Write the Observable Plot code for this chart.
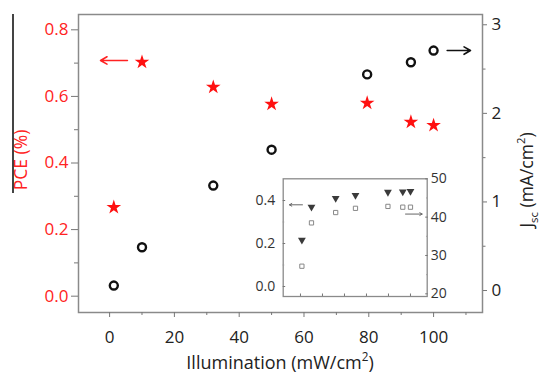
<!DOCTYPE html>
<html><head><meta charset="utf-8">
<script src="https://cdn.jsdelivr.net/npm/d3@7"></script>
<script src="https://cdn.jsdelivr.net/npm/@observablehq/plot@0.6"></script>
<style>
body{margin:0;background:#fff;}
#chart{position:relative;width:542px;height:377px;overflow:hidden;background:#fff;}
#chart svg{position:absolute;}
#edge{position:absolute;left:12px;top:14px;width:1.5px;height:179px;background:#444;}
</style></head><body><div id="chart"><div id="edge"></div></div>
<script>
// ---- data ----
const illumination = [1.3, 10, 32, 50, 79.5, 93, 100];     // mW/cm2
const pce = [0.267, 0.703, 0.628, 0.577, 0.580, 0.523, 0.513]; // %
const jsc = [0.056, 0.489, 1.185, 1.59, 2.44, 2.577, 2.709];   // mA/cm2
const voc = [0.216, 0.370, 0.410, 0.424, 0.439, 0.441, 0.443]; // V
const ff = [27.2, 38.5, 41.2, 42.3, 42.8, 42.6, 42.6];         // %
const xTicks = [0, 20, 40, 60, 80, 100];
const xMinor = [10, 30, 50, 70, 90, 110];
const pceTicks = [0, 0.2, 0.4, 0.6, 0.8];
const pceMinor = [0.1, 0.3, 0.5, 0.7];
const jscTicks = [0, 1, 2, 3];
const jscMinor = [0.5, 1.5, 2.5];
const vocTicks = [0, 0.2, 0.4];
const vocMinor = [0.1, 0.3];
const ffTicks = [20, 30, 40, 50];
const ffMinor = [25, 35, 45];
// annotation arrows (data coordinates)
const pceArrow = [{x1: 5.5, x2: -2.8, y: 0.708}];
const jscArrow = [{x1: 104.2, x2: 111.4, y: 2.709}];
const vocArrow = [{x1: 1.8, x2: -10, y: 0.38}];
const ffArrow = [{x1: 95.5, x2: 110.6, y: 40.8}];

const rows = illumination.map((x, i) => ({x, pce: pce[i], jsc: jsc[i], voc: voc[i], ff: ff[i]}));
const chart = document.getElementById("chart");
const FONT = '"Open Sans", sans-serif';
const W = 542, H = 377;
const main = {width: W, height: H, marginLeft: 78, marginRight: 60, marginTop: 14, marginBottom: 65};
const xMain = [-9.6, 115.1];
const st = (fs) => ({fontFamily: FONT, fontSize: fs + "px", background: "transparent", overflow: "visible"});
const none = () => "";

// main plot, left axis (PCE)
const p1 = Plot.plot({
  ...main, style: st(17), x: {domain: xMain}, y: {domain: [-0.049, 0.846]},
  marks: [
    Plot.frame({stroke: "#8a8a8a", strokeWidth: 1.5}),
    Plot.axisX({ticks: xTicks, tickSize: 5, tickFormat: none, stroke: "#777", label: null}),
    Plot.axisX({ticks: xMinor, tickSize: 3, tickFormat: none, stroke: "#777", label: null}),
    Plot.axisX({ticks: xTicks, tickSize: 0, tickPadding: 18, fill: "#222", label: null, tickFormat: d3.format("d")}),
    Plot.axisY({ticks: pceTicks, tickSize: 7, tickFormat: none, stroke: "#777", label: null}),
    Plot.axisY({ticks: pceMinor, tickSize: 4, tickFormat: none, stroke: "#777", label: null}),
    Plot.axisY({ticks: pceTicks, tickSize: 0, tickPadding: 10, fill: "#ff2222", label: null, tickFormat: d3.format(".1f")}),
    Plot.arrow(pceArrow, {x1: "x1", y1: "y", x2: "x2", y2: "y", stroke: "#ff2222", strokeWidth: 1.6, headLength: 7}),
    Plot.dot(rows, {x: "x", y: "pce", symbol: "star", r: 4.6, fill: "#ff1010", stroke: "none"})
  ]
});
p1.style.left = "0px"; p1.style.top = "0px";
chart.appendChild(p1);

// main plot, right axis (Jsc)
const p2 = Plot.plot({
  ...main, style: st(17), x: {domain: xMain, axis: null}, y: {domain: [-0.248, 3.116]},
  marks: [
    Plot.axisY({anchor: "right", ticks: jscTicks, tickSize: 4, tickFormat: none, stroke: "#777", label: null}),
    Plot.axisY({anchor: "right", ticks: jscMinor, tickSize: 2.5, tickFormat: none, stroke: "#777", label: null}),
    Plot.axisY({anchor: "right", ticks: jscTicks, tickSize: 0, tickPadding: 9, fill: "#222", label: null, tickFormat: d3.format("d")}),
    Plot.arrow(jscArrow, {x1: "x1", y1: "y", x2: "x2", y2: "y", stroke: "#111", strokeWidth: 1.6, headLength: 7}),
    Plot.dot(rows, {x: "x", y: "jsc", r: 4, stroke: "#111", strokeWidth: 2.4, fill: "none"})
  ]
});
p2.style.left = "0px"; p2.style.top = "0px";
chart.appendChild(p2);

// inset geometry
const IL = 222, IT = 165, IW = 260, IH = 145;
const inset = {width: IW, height: IH, marginLeft: 60.7, marginRight: 55.3, marginTop: 13.3, marginBottom: 14};
const xInset = [-15.7, 115.2];
const p3 = Plot.plot({
  ...inset, style: st(14), x: {domain: xInset}, y: {domain: [-0.0465, 0.501]},
  marks: [
    Plot.frame({stroke: "#8a8a8a", strokeWidth: 1.3}),
    Plot.axisX({ticks: xTicks, tickSize: -2.5, tickFormat: none, stroke: "#777", label: null}),
    Plot.axisY({ticks: vocTicks, tickSize: -2.5, tickFormat: none, stroke: "#777", label: null}),
    Plot.axisY({ticks: vocMinor, tickSize: -1.5, tickFormat: none, stroke: "#999", label: null}),
    Plot.axisY({ticks: vocTicks, tickSize: 0, tickPadding: 8, fill: "#333", label: null, tickFormat: d3.format(".1f")}),
    Plot.arrow(vocArrow, {x1: "x1", y1: "y", x2: "x2", y2: "y", stroke: "#666", strokeWidth: 1, headLength: 4}),
    Plot.dot(rows, {x: "x", y: "voc", symbol: "triangle", rotate: 180, r: 2.9, fill: "#3a3a3a", stroke: "none"})
  ]
});
p3.style.left = IL + "px"; p3.style.top = IT + "px";
chart.appendChild(p3);

const p4 = Plot.plot({
  ...inset, style: st(14), x: {domain: xInset, axis: null}, y: {domain: [19.3, 50]},
  marks: [
    Plot.axisY({anchor: "right", ticks: ffTicks, tickSize: -2.5, tickFormat: none, stroke: "#777", label: null}),
    Plot.axisY({anchor: "right", ticks: ffMinor, tickSize: -1.5, tickFormat: none, stroke: "#999", label: null}),
    Plot.axisY({anchor: "right", ticks: ffTicks, tickSize: 0, tickPadding: 3.5, fill: "#333", label: null, tickFormat: d3.format("d")}),
    Plot.arrow(ffArrow, {x1: "x1", y1: "y", x2: "x2", y2: "y", stroke: "#666", strokeWidth: 1, headLength: 4}),
    Plot.dot(rows, {x: "x", y: "ff", symbol: "square", r: 2.4, fill: "none", stroke: "#888", strokeWidth: 1})
  ]
});
p4.style.left = IL + "px"; p4.style.top = IT + "px";
chart.appendChild(p4);

// axis titles (real text, with sub/superscripts)
function title(svg, x, y, rot, size, color, parts) {
  const t = d3.select(svg).append("text")
    .attr("transform", `translate(${x},${y}) rotate(${rot})`)
    .attr("text-anchor", "middle")
    .attr("font-family", FONT).attr("font-size", size).attr("fill", color);
  for (const [s, kind] of parts) {
    const ts = t.append("tspan").text(s);
    if (kind === "sub") ts.attr("font-size", size * 0.65).attr("dy", size * 0.3);
    if (kind === "sup") ts.attr("font-size", size * 0.65).attr("dy", -size * 0.45);
    if (kind === "back-sub") ts.attr("dy", -size * 0.3);
    if (kind === "back-sup") ts.attr("dy", size * 0.45);
  }
  return t;
}
title(p1, 280, 369, 0, 18, "#222", [["Illumination (mW/cm"], ["2", "sup"], [")", "back-sup"]]);
title(p1, 27, 160, -90, 17.5, "#ff2222", [["PCE (%)"]]);
title(p2, 533, 180, -90, 17.5, "#222", [["J"], ["sc", "sub"], [" (mA/cm", "back-sub"], ["2", "sup"], [")", "back-sup"]]);
title(p3, 241, 238, -90, 13.5, "#444", [["V"], ["oc", "sub"], [" (V)", "back-sub"]]);
title(p4, 475 - IL, 234, -90, 13, "#444", [["FF (%)"]]);
</script></body></html>
